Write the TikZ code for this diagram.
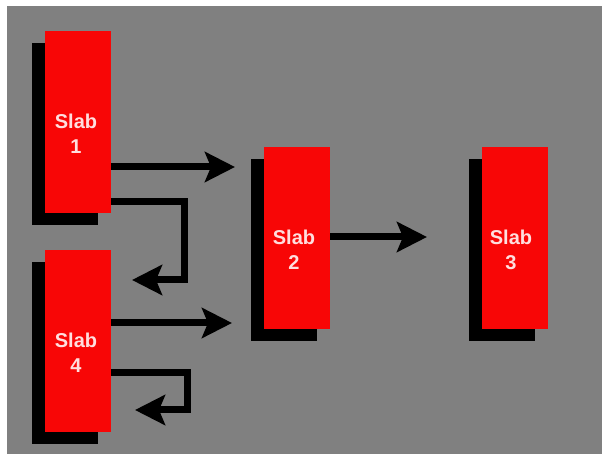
\documentclass[tikz,border=0pt]{standalone}
\usepackage{fontspec}
\setmainfont{Liberation Sans}
\usetikzlibrary{arrows.meta,shadows}
\definecolor{panel}{RGB}{128,128,128}
\definecolor{slabred}{RGB}{248,6,6}
\definecolor{slabtext}{RGB}{255,222,222}
\tikzset{
  slab/.style={rectangle, fill=slabred, minimum width=66pt, minimum height=182pt,
    inner sep=0pt, outer sep=0pt,
    general shadow={fill=black, shadow xshift=-13pt, shadow yshift=-12pt}},
  slabname/.style={text=slabtext, font=\bfseries\fontsize{20}{25}\selectfont,
    align=center, inner sep=0pt},
  flow/.style={draw=black, line width=7pt,
    -{Stealth[length=30pt,width=30pt,inset=6pt]}},
  loopflow/.style={flow, line join=miter}
}
\begin{document}
\begin{tikzpicture}[x=1pt,y=-1pt]
  \useasboundingbox (0,0) rectangle (603,454);
  \fill[panel] (7,6) rectangle (602,454);

  % the four slabs
  \node[slab] (s1) at (78,122) {};
  \node[slab] (s4) at (78,341) {};
  \node[slab] (s2) at (297,238) {};
  \node[slab] (s3) at (515,238) {};

  \node[slabname] (t1) at (76,134) {Slab\\1};
  \node[slabname] (t4) at (76,353) {Slab\\4};
  \node[slabname] (t2) at (294,250) {Slab\\2};
  \node[slabname] (t3) at (511,250) {Slab\\3};

  % turn points of the return loops
  \coordinate (c1a) at (184,202);
  \coordinate (c1b) at (184,280);
  \coordinate (e1)  at (132,280);
  \coordinate (c4a) at (187,373);
  \coordinate (c4b) at (187,410);
  \coordinate (e4)  at (135,410);

  % straight transfers
  \draw[flow, shorten >=29pt] ([yshift=-45pt]s1.east) -- ([yshift=-45pt]s1.east -| s2.west);
  \draw[flow, shorten >=32pt] ([yshift=18pt]s4.east) -- ([yshift=18pt]s4.east -| s2.west);
  \draw[flow, shorten >=55pt] ([yshift=1pt]s2.east) -- ([yshift=1pt]s2.east -| s3.west);

  % return loops
  \draw[loopflow] ([yshift=-80pt]s1.east) -- (c1a) -- (c1b) -- (e1);
  \draw[loopflow] ([yshift=-32pt]s4.east) -- (c4a) -- (c4b) -- (e4);
\end{tikzpicture}
\end{document}
